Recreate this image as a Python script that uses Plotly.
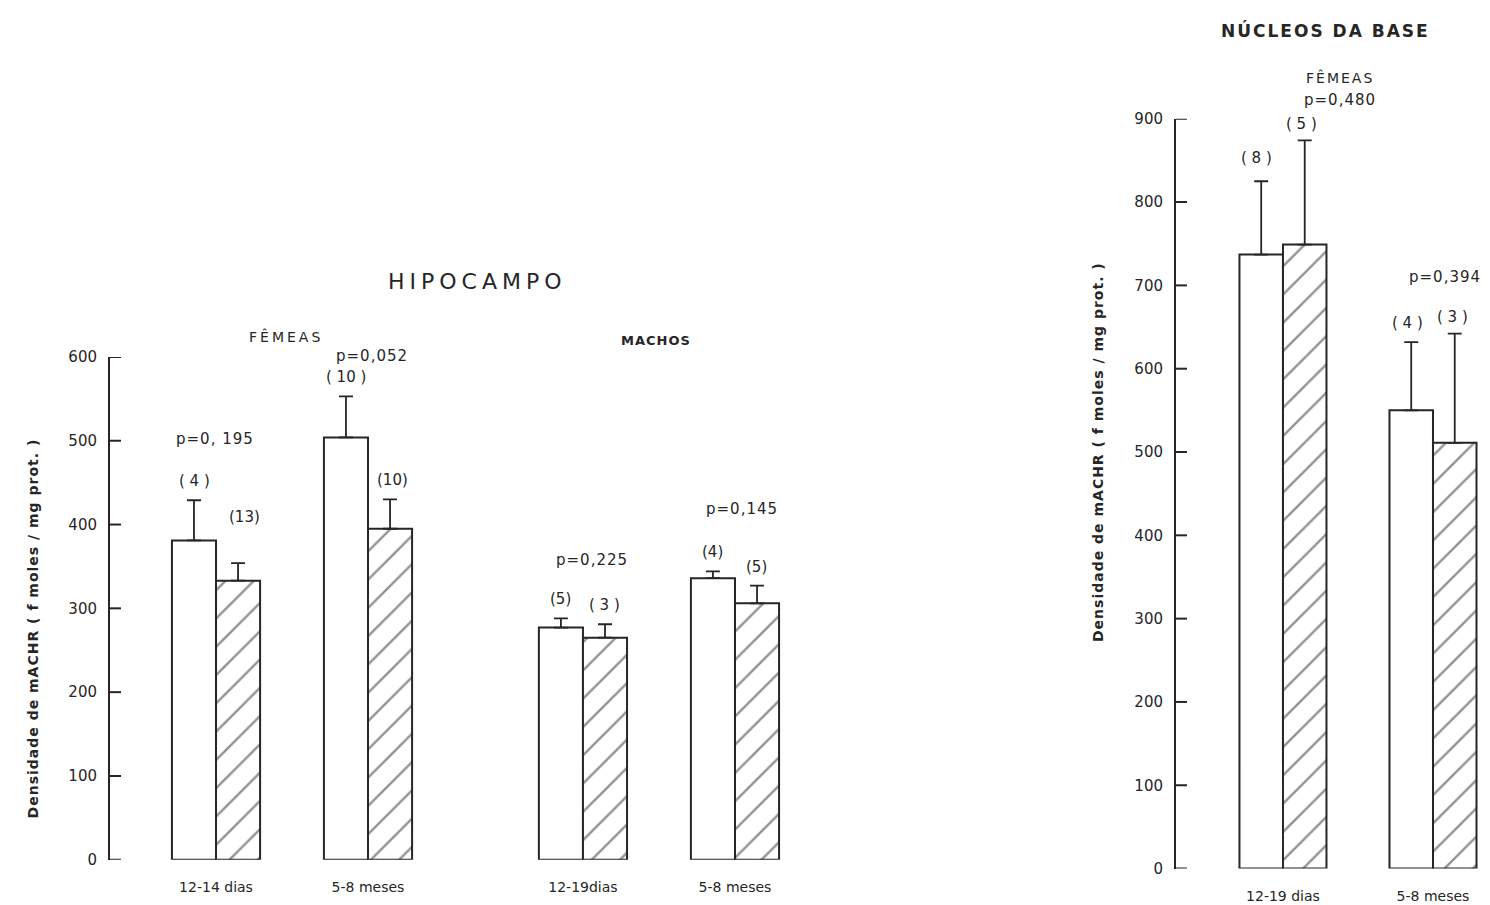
import plotly.graph_objects as go

W, H = 1490, 905

# ---------------- data ----------------
hip_fem_groups = ["12-14 dias", "5-8 meses"]
hip_fem_ctrl = [381, 504]
hip_fem_ctrl_err = [48, 49]
hip_fem_trt = [333, 395]
hip_fem_trt_err = [21, 35]
hip_fem_n_ctrl = ["( 4 )", "( 10 )"]
hip_fem_n_trt = ["(13)", "(10)"]
hip_fem_p = ["p=0, 195", "p=0,052"]

hip_mac_groups = ["12-19dias", "5-8 meses"]
hip_mac_ctrl = [277, 336]
hip_mac_ctrl_err = [11, 8]
hip_mac_trt = [265, 306]
hip_mac_trt_err = [16, 21]
hip_mac_n_ctrl = ["(5)", "(4)"]
hip_mac_n_trt = ["( 3 )", "(5)"]
hip_mac_p = ["p=0,225", "p=0,145"]

nb_groups = ["12-19 dias", "5-8 meses"]
nb_ctrl = [737, 550]
nb_ctrl_err = [88, 82]
nb_trt = [749, 511]
nb_trt_err = [125, 131]
nb_n_ctrl = ["( 8 )", "( 4 )"]
nb_n_trt = ["( 5 )", "( 3 )"]
nb_p = ["p=0,480", "p=0,394"]

y_ticks_hip = [0, 100, 200, 300, 400, 500, 600]
y_ticks_nb = [0, 100, 200, 300, 400, 500, 600, 700, 800, 900]
y_title = "Densidade de mACHR ( f moles / mg prot. )"

# ---------------- style ----------------
INK = "#262626"
FONT = "DejaVu Sans"
def px(x): return x / W
def py(y): return 1 - y / H

fig = go.Figure()

def add_pair(groups, ctrl, ctrl_err, trt, trt_err, xa, ya):
    fig.add_trace(go.Bar(
        x=groups, y=ctrl, xaxis=xa, yaxis=ya, showlegend=False,
        marker=dict(color="white", line=dict(color=INK, width=2)),
        error_y=dict(type="data", array=ctrl_err, arrayminus=[0]*len(ctrl),
                     symmetric=False, color=INK, thickness=1.8, width=7),
    ))
    fig.add_trace(go.Bar(
        x=groups, y=trt, xaxis=xa, yaxis=ya, showlegend=False,
        marker=dict(color="white", line=dict(color=INK, width=2),
                    pattern=dict(shape="/", fgcolor=INK, bgcolor="white",
                                 size=20, solidity=0.12)),
        error_y=dict(type="data", array=trt_err, arrayminus=[0]*len(trt),
                     symmetric=False, color=INK, thickness=1.8, width=7),
    ))

add_pair(hip_fem_groups, hip_fem_ctrl, hip_fem_ctrl_err, hip_fem_trt, hip_fem_trt_err, "x", "y")
add_pair(hip_mac_groups, hip_mac_ctrl, hip_mac_ctrl_err, hip_mac_trt, hip_mac_trt_err, "x2", "y")
add_pair(nb_groups, nb_ctrl, nb_ctrl_err, nb_trt, nb_trt_err, "x3", "y3")

xcommon = dict(type="category", showline=False, ticks="", showgrid=False, zeroline=False,
               ticklabelstandoff=17,
               tickfont=dict(family=FONT, size=14, color=INK), fixedrange=True)
ycommon = dict(showline=True, linecolor=INK, linewidth=2, ticks="", showgrid=False,
               zeroline=False, ticklabelstandoff=8,
               tickfont=dict(family=FONT, size=15, color=INK), fixedrange=True)

AX_HIP_X, AX_NB_X = 110, 1176

fig.update_layout(
    width=W, height=H, margin=dict(l=0, r=0, t=0, b=0),
    paper_bgcolor="white", plot_bgcolor="white",
    barmode="group", bargap=0.42, bargroupgap=0,
    xaxis=dict(xcommon, domain=[px(AX_HIP_X), px(444)], range=[-0.6975, 1.5], anchor="y"),
    xaxis2=dict(xcommon, domain=[px(444), px(811)], range=[-0.914, 1.5], anchor="y"),
    xaxis3=dict(xcommon, domain=[px(AX_NB_X), 1.0], range=[-0.713, 1.38], anchor="y3"),
    yaxis=dict(ycommon, domain=[py(868), py(355)], range=[0, 600], anchor="x",
               tickvals=y_ticks_hip),
    yaxis3=dict(ycommon, domain=[py(877), py(112)], range=[0, 900], anchor="x3",
                tickvals=y_ticks_nb),
)

# short tick marks pointing right of each y axis (drawn from the tick values)
shapes = []
for axx, yref, vals in ((AX_HIP_X, "y", y_ticks_hip), (AX_NB_X, "y3", y_ticks_nb)):
    for v in vals:
        shapes.append(dict(type="line", xref="paper", yref=yref,
                           x0=px(axx), x1=px(axx + 11), y0=v, y1=v,
                           line=dict(color=INK, width=2)))
fig.update_layout(shapes=shapes)

ann = []
def text(x, y, s, size=14, bold=False, spacing=0, angle=0):
    t = f"<b>{s}</b>" if bold else s
    if spacing:
        t = f'<span style="letter-spacing:{spacing}px">{t}</span>'
    ann.append(dict(x=px(x), y=py(y), xref="paper", yref="paper", text=t,
                    showarrow=False, textangle=angle, xanchor="center", yanchor="middle",
                    font=dict(family=FONT, size=size, color=INK)))

# titles
text(477, 278, "HIPOCAMPO", size=22, spacing=5)
text(286, 334, "FÊMEAS", size=14, spacing=3)
text(656, 338, "MACHOS", size=13, bold=True, spacing=1)
text(1325, 22, "NÚCLEOS DA BASE", size=17, bold=True, spacing=2)
text(1340, 70, "FÊMEAS", size=14, spacing=2)
text(33, 632, y_title, size=14, bold=True, spacing=1, angle=-90)
text(1098, 452, y_title, size=14, bold=True, spacing=1, angle=-90)

# p-values (pixel positions of labels)
p_pos = {
    "hip_fem": [(215, 439), (372, 354)],
    "hip_mac": [(592, 562), (742, 510)],
    "nb": [(1340, 93), (1445, 273)],
}
for key, labels in (("hip_fem", hip_fem_p), ("hip_mac", hip_mac_p), ("nb", nb_p)):
    for (x, y), s in zip(p_pos[key], labels):
        text(x, y, s, size=15, spacing=1)

# counts tied to bars
def counts(groups, vals, errs, labels, xa, ya, side, shifts=None):
    for i, g in enumerate(groups):
        dx, dy = (shifts[i] if shifts else (0, 0))
        ann.append(dict(x=g, y=vals[i] + errs[i], xref=xa, yref=ya, text=labels[i],
                        showarrow=False, xshift=side * 22 + dx, yshift=19 + dy,
                        font=dict(family=FONT, size=15, color=INK)))

counts(hip_fem_groups, hip_fem_ctrl, hip_fem_ctrl_err, hip_fem_n_ctrl, "x", "y", -1)
counts(hip_fem_groups, hip_fem_trt, hip_fem_trt_err, hip_fem_n_trt, "x", "y", 1,
       shifts=[(6, 27), (2, 0)])
counts(hip_mac_groups, hip_mac_ctrl, hip_mac_ctrl_err, hip_mac_n_ctrl, "x2", "y", -1)
counts(hip_mac_groups, hip_mac_trt, hip_mac_trt_err, hip_mac_n_trt, "x2", "y", 1)
counts(nb_groups, nb_ctrl, nb_ctrl_err, nb_n_ctrl, "x3", "y3", -1, shifts=[(-4, 4), (-3, 0)])
counts(nb_groups, nb_trt, nb_trt_err, nb_n_trt, "x3", "y3", 1, shifts=[(-3, -3), (-2, -2)])

fig.update_layout(annotations=ann)
fig.write_html("out.html")
